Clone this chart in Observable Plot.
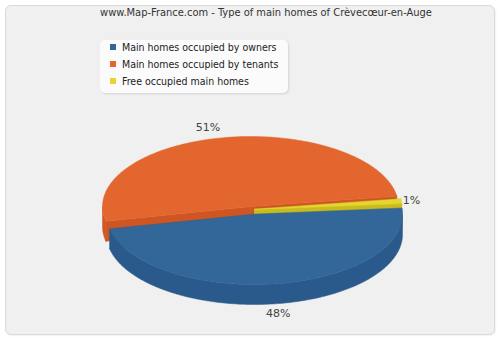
<!DOCTYPE html>
<html><head><meta charset="utf-8">
<script src="https://cdn.jsdelivr.net/npm/d3@7"></script>
<script src="https://cdn.jsdelivr.net/npm/@observablehq/plot@0.6"></script>
<style>
html,body{margin:0;padding:0;background:#fff;}
#chart{position:relative;width:500px;height:340px;overflow:hidden;font-family:"DejaVu Sans Condensed","DejaVu Sans",Verdana,sans-serif;}
#frame{position:absolute;left:5px;top:5px;width:488px;height:328px;border:1px solid #dadada;border-radius:6px;background:#f0f0f0;box-shadow:1px 1px 2px rgba(0,0,0,0.06);}
#title{position:absolute;top:6px;left:0;width:532px;text-align:center;font-size:11px;line-height:14px;color:#333;}
#plot{position:absolute;left:0;top:0;}
#legend{position:absolute;left:100px;top:40px;width:188px;height:53px;background:#fbfbfb;border-radius:5px;box-shadow:1px 1px 2px rgba(0,0,0,0.12);}
.item{position:absolute;left:22px;font-size:10.5px;line-height:12px;color:#222;white-space:nowrap;}
.sw{position:absolute;left:10px;width:6px;height:6px;}
</style>
</head><body>
<div id="chart">
  <div id="frame"></div>
  <div id="plot"></div>
  <div id="title"></div>
  <div id="legend"></div>
</div>
<script>
// ---- data ----
const title = "www.Map-France.com - Type of main homes of Crèvecœur-en-Auge";
const categories = ["Main homes occupied by owners", "Main homes occupied by tenants", "Free occupied main homes"];
const values = [48, 51, 1];
const labels = ["48%", "51%", "1%"];
const topColors = ["#336699", "#e2662e", "#e3d631"];
const sideColors = ["#2a5a8b", "#cf5623", "#c8ba1f"];

// ---- geometry (layout) ----
const geo = {cx: 253, cy: 212, rx: 148, ry: 70, depth: 20, start: 355};
const explode = [[1, 2], [-3, -6], [1, -3]];
const drawOrder = [1, 2, 0];

document.getElementById("title").textContent = title;
const legend = document.getElementById("legend");
categories.forEach((c, i) => {
  const sw = document.createElement("div");
  sw.className = "sw"; sw.style.top = (4 + i * 17) + "px"; sw.style.background = topColors[i];
  legend.appendChild(sw);
  const t = document.createElement("div");
  t.className = "item"; t.style.top = (1 + i * 17) + "px"; t.textContent = c;
  legend.appendChild(t);
});

const total = d3.sum(values);
const rad = a => a * Math.PI / 180;
const slices = [];
let acc = geo.start;
values.forEach((v, i) => {
  const a0 = acc, a1 = acc + v / total * 360;
  acc = a1;
  slices.push({i, a0, a1, ox: geo.cx + explode[i][0], oy: geo.cy + explode[i][1]});
});

const polys = [];
let pid = 0;
function addPoly(pts, fill) {
  const id = pid++;
  for (const [x, y] of pts) polys.push({id, x, y, fill});
}
function rim(s, a, dz) {
  return [s.ox + geo.rx * Math.cos(rad(a)), s.oy + geo.ry * Math.sin(rad(a)) + dz];
}
function arc(s, b0, b1, dz) {
  const n = Math.max(2, Math.ceil(Math.abs(b1 - b0)));
  return d3.range(n + 1).map(k => rim(s, b0 + (b1 - b0) * k / n, dz));
}

for (const idx of drawOrder) {
  const s = slices.find(d => d.i === idx);
  const side = sideColors[idx], top = topColors[idx];
  for (const a of [s.a0, s.a1]) {
    addPoly([[s.ox, s.oy], [s.ox, s.oy + geo.depth], rim(s, a, geo.depth), rim(s, a, 0)], side);
  }
  for (let k = -1; k < 3; k++) {
    const b0 = Math.max(s.a0, k * 360), b1 = Math.min(s.a1, k * 360 + 180);
    if (b1 > b0) addPoly([...arc(s, b0, b1, 0), ...arc(s, b1, b0, geo.depth)], side);
  }
  addPoly([[s.ox, s.oy], ...arc(s, s.a0, s.a1, 0)], top);
}
const labelData = slices.map(s => {
  const m = rad((s.a0 + s.a1) / 2);
  const sn = Math.sin(m), cs = Math.cos(m);
  return {
    x: s.ox + (geo.rx + 10) * cs + (cs < -0.1 ? -14 : 0),
    y: s.oy + (geo.ry + 10) * sn + (sn > 0 ? geo.depth : 0),
    text: labels[s.i]
  };
});

const plot = Plot.plot({
  width: 500, height: 340, margin: 0,
  style: {background: "transparent", overflow: "visible"},
  x: {domain: [0, 500], range: [0, 500], axis: null},
  y: {domain: [0, 340], range: [0, 340], axis: null},
  color: {type: "identity"},
  marks: [
    Plot.line(polys, {x: "x", y: "y", z: "id", fill: "fill", stroke: "fill", strokeWidth: 0.5, curve: "linear-closed"}),
    Plot.text(labelData, {x: "x", y: "y", text: "text", fontSize: 11, fill: "#444", fontFamily: "DejaVu Sans"})
  ]
});
document.getElementById("plot").appendChild(plot);
</script>
</body></html>
